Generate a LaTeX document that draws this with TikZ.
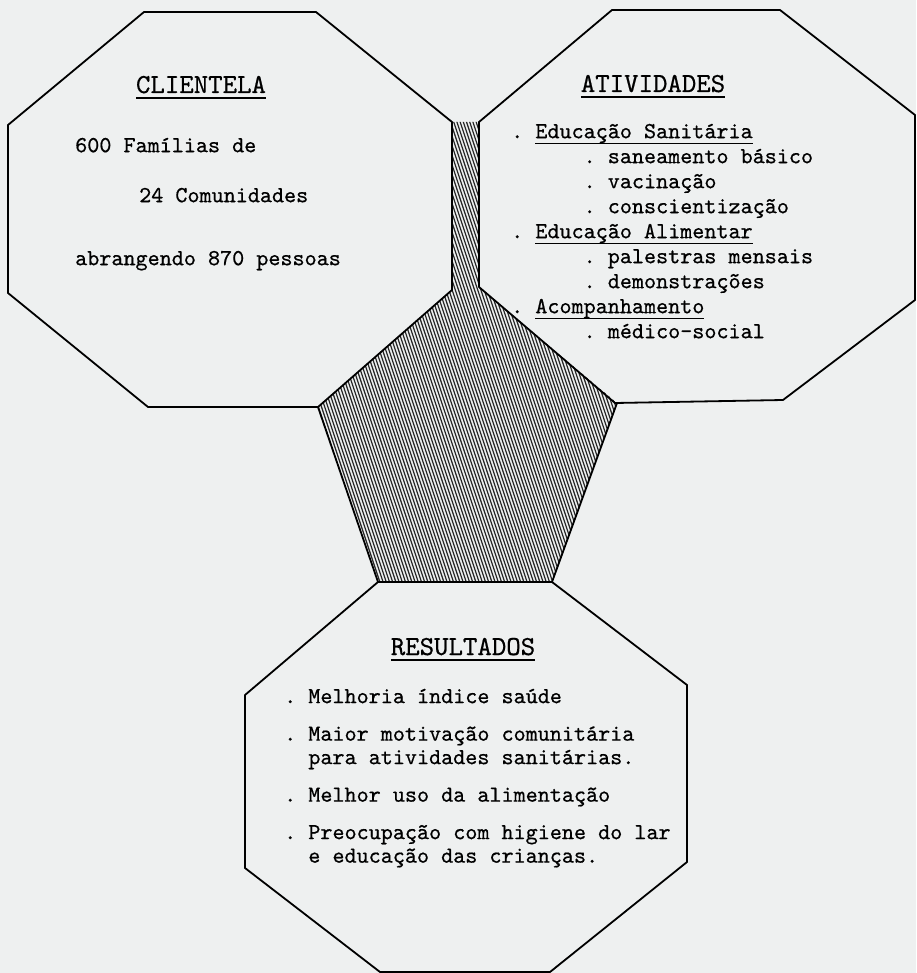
\documentclass[tikz,border=0pt]{standalone}
\usepackage{fontspec}
\setmonofont{lmmono10-regular.otf}[FakeBold=0.6]
\usetikzlibrary{positioning}

\definecolor{paper}{RGB}{238,240,240}
\newcommand{\bodyfont}{\ttfamily\fontsize{23}{25}\selectfont\frenchspacing}
\newcommand{\headfont}{\ttfamily\fontsize{27.5}{30}\selectfont}
\newcommand{\ulin}[1]{\setbox0=\hbox{#1}\rlap{\rule[-6pt]{\wd0}{1.6pt}}\box0}
\newcommand{\indt}{\hspace*{3.15em}}

\tikzset{
  octo/.style={draw=black, line width=1.8pt, line join=round},
  hatch/.style={line width=1.2pt, black!85},
  head/.style={inner sep=0pt, anchor=base, font=\headfont},
  body/.style={inner sep=0pt, anchor=north west, font=\bodyfont}
}

\begin{document}
\begin{tikzpicture}[x=1pt, y=-1pt]
\fill[paper] (0,0) rectangle (916,973);
\useasboundingbox (0,0) rectangle (916,973);

% shaded junction
\begin{scope}
  \clip (452,122) -- (452,290) -- (318,407) -- (378,582) -- (552,582)
        -- (617,403) -- (479,287) -- (479,122) -- cycle;
  \foreach \i in {0,...,112}
    \draw[hatch] (200+3.2*\i,100) -- ++(180,540);
\end{scope}

% octagons
\draw[octo] (144,12) -- (316,12) -- (452,122) -- (452,290) -- (318,407)
  -- (148,407) -- (8,293) -- (8,125) -- cycle;
\draw[octo] (612,10) -- (780,10) -- (915,115) -- (915,300) -- (783,400)
  -- (615,403) -- (479,287) -- (479,122) -- cycle;
\draw[octo] (378,582) -- (552,582) -- (687,685) -- (687,862) -- (550,972)
  -- (380,972) -- (245,868) -- (245,695) -- cycle;
\draw[octo] (318,407) -- (378,582);
\draw[octo] (617,403) -- (552,582);

% clientela
\node[head] (hcli) at (201,93) {\ulin{CLIENTELA}};
\node[body] (cli) at (75,134.5) {
  \parbox{330pt}{\strut 600 Famílias de\\[25pt]
    \hspace*{64pt}24 Comunidades\\[38pt]
    abrangendo 870 pessoas}
};

% atividades
\node[head] (hati) at (653,92) {\ulin{ATIVIDADES}};
\node[body] (ati) at (511,120.5) {
  \parbox{380pt}{\strut . \ulin{Educação Sanitária}\\
    \indt. saneamento básico\\
    \indt. vacinação\\
    \indt. conscientização\\
    . \ulin{Educação Alimentar}\\
    \indt. palestras mensais\\
    \indt. demonstrações\\
    . \ulin{Acompanhamento}\\
    \indt. médico-social}
};

% resultados
\node[head] (hres) at (463,655) {\ulin{RESULTADOS}};
\node[body, font=\bodyfont\fontsize{23}{23.5}\selectfont] (res) at (284,686.5) {
  \parbox{420pt}{\strut . Melhoria índice saúde\\[14pt]
    . Maior motivação comunitária\\
    \hspace*{1.05em}para atividades sanitárias.\\[14pt]
    . Melhor uso da alimentação\\[14pt]
    . Preocupação com higiene do lar\\
    \hspace*{1.05em}e educação das crianças.}
};
\end{tikzpicture}
\end{document}
